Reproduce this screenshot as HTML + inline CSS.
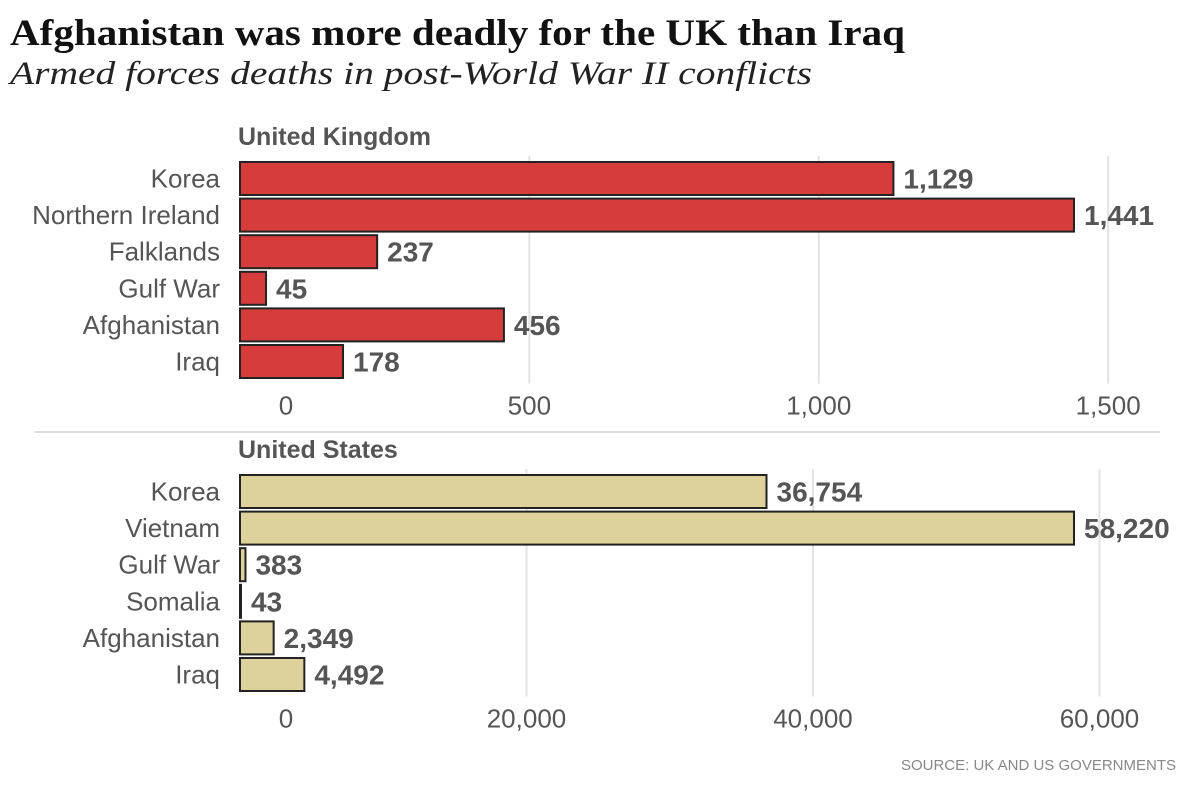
<!DOCTYPE html>
<html><head><meta charset="utf-8">
<style>
body{margin:0;background:#fff;width:1200px;height:786px;overflow:hidden}
svg text{font-family:"Liberation Sans Narrow","Liberation Sans",sans-serif;fill:#555}
</style></head>
<body>
<svg width="1200" height="786">
<text x="10" y="45" textLength="895" lengthAdjust="spacingAndGlyphs" style="font-family:'Liberation Serif',serif;font-weight:bold;font-size:37px;fill:#111">Afghanistan was more deadly for the UK than Iraq</text>
<text x="10" y="84" textLength="802" lengthAdjust="spacingAndGlyphs" style="font-family:'Liberation Serif',serif;font-style:italic;font-size:33px;fill:#222">Armed forces deaths in post-World War II conflicts</text>
<line x1="35" y1="432" x2="1160" y2="432" stroke="#ddd" stroke-width="2"/>
<text x="1176" y="770" text-anchor="end" style="font-size:15px;fill:#888">SOURCE: UK AND US GOVERNMENTS</text>
<g id="uk"></g><g id="us"></g>
</svg>
<script>
const ukCats=["Korea","Northern Ireland","Falklands","Gulf War","Afghanistan","Iraq"];
const ukVals=[1129,1441,237,45,456,178];
const ukTicks=[0,500,1000,1500];
const usCats=["Korea","Vietnam","Gulf War","Somalia","Afghanistan","Iraq"];
const usVals=[36754,58220,383,43,2349,4492];
const usTicks=[0,20000,40000,60000];
const NS="http://www.w3.org/2000/svg";
function mk(p,t,a){const e=document.createElementNS(NS,t);for(const k in a)e.setAttribute(k,a[k]);p.appendChild(e);return e;}
function fmt(v){return v.toLocaleString("en-US");}
function draw(g,name,title,cats,vals,ticks,max,fill,top){
  const x0=240,x1=1074;
  const x=v=>x0+(v/max)*(x1-x0);
  const step=36.6,bh=33,first=top+44;
  const t=mk(g,"text",{x:238,y:top+27,"font-size":"25","font-weight":"bold"});
  t.textContent=title;
  
  
  const yb=first+cats.length*step;
  ticks.forEach(v=>{
    if(v>0){
      const l=mk(g,"line",{x1:x(v),x2:x(v),y1:first-6,y2:yb+2,stroke:"#e3e3e3","stroke-width":2});
      
      
    }
    const lx=v===0?x(v)+46:x(v);
    const tl=mk(g,"text",{x:lx,y:yb+33,"text-anchor":"middle","font-size":"26"});
    tl.textContent=fmt(v);
    
    
  });
  cats.forEach((c,i)=>{
    const y=first+i*step;
    const lab=mk(g,"text",{x:220,y:y+bh/2+9,"text-anchor":"end","font-size":"26"});
    lab.textContent=c;
    
    
    const w=Math.max(x(vals[i])-x0,1);
    const r=mk(g,"rect",{x:x0,y:y,width:w,height:bh,fill:fill,stroke:"#222","stroke-width":2});
    
    
    const vl=mk(g,"text",{x:x0+w+10,y:y+bh/2+10,"font-size":"28","font-weight":"bold"});
    vl.textContent=fmt(vals[i]);
    
    
  });
}
draw(document.getElementById("uk"),"uk","United Kingdom",ukCats,ukVals,ukTicks,1441,"#d63c3c",118);
draw(document.getElementById("us"),"us","United States",usCats,usVals,usTicks,58220,"#ddd29b",431);
</script>
</body></html>
